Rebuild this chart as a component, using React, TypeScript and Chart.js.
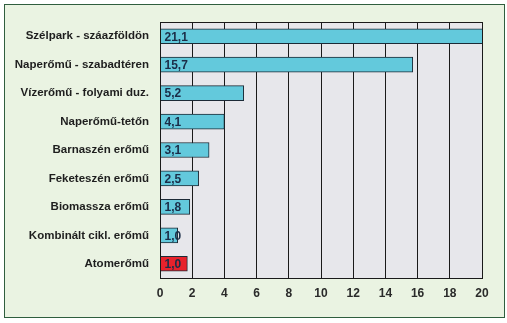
import React, { useEffect, useRef } from "react";
import { Chart, registerables } from "chart.js";

Chart.register(...registerables);

const categories = [
  "Szélpark - száazföldön",
  "Naperőmű - szabadtéren",
  "Vízerőmű - folyami duz.",
  "Naperőmű-tetőn",
  "Barnaszén erőmű",
  "Feketeszén erőmű",
  "Biomassza erőmű",
  "Kombinált cikl. erőmű",
  "Atomerőmű",
];
const barValues = [21.1, 15.7, 5.2, 4.0, 3.05, 2.4, 1.85, 1.1, 1.7];
const valueLabels = ["21,1", "15,7", "5,2", "4,1", "3,1", "2,5", "1,8", "1,0", "1,0"];
const barColors = ["#63c9dc", "#63c9dc", "#63c9dc", "#63c9dc", "#63c9dc", "#63c9dc", "#63c9dc", "#63c9dc", "#e8222c"];
const xTicks = [0, 2, 4, 6, 8, 10, 12, 14, 16, 18, 20];

const FONT = "'Liberation Sans', Arial, sans-serif";

const plotBg = {
  id: "plotBg",
  beforeDraw(chart: any) {
    const { ctx, chartArea: a } = chart;
    ctx.save();
    ctx.fillStyle = "#e7e7eb";
    ctx.fillRect(a.left, a.top, a.right - a.left, a.bottom - a.top);
    ctx.restore();
  },
  afterDraw(chart: any) {
    const { ctx, chartArea: a } = chart;
    ctx.save();
    ctx.strokeStyle = "#1a1a1a";
    ctx.lineWidth = 1;
    ctx.strokeRect(Math.round(a.left) + 0.5, Math.round(a.top) + 0.5, Math.round(a.right - a.left), Math.round(a.bottom - a.top));
    ctx.restore();
  },
};

const valueLabelPlugin = {
  id: "valueLabels",
  afterDatasetsDraw(chart: any) {
    const { ctx } = chart;
    const meta = chart.getDatasetMeta(0);
    ctx.save();
    ctx.font = `bold 12px ${FONT}`;
    ctx.fillStyle = "#1b2d48";
    ctx.textBaseline = "middle";
    ctx.textAlign = "left";
    meta.data.forEach((bar: any, i: number) => {
      ctx.fillText(valueLabels[i], bar.base + 4, bar.y + 1);
    });
    ctx.restore();
  },
};

export default function App() {
  const ref = useRef<HTMLCanvasElement>(null);
  useEffect(() => {
    document.body.style.margin = "0";
    const chart = new Chart(ref.current!, {
      type: "bar",
      data: {
        labels: categories,
        datasets: [
          {
            data: barValues,
            backgroundColor: barColors,
            borderColor: "#1c2a36",
            borderWidth: 1,
            barThickness: 15,
          },
        ],
      },
      options: {
        indexAxis: "y",
        animation: false,
        responsive: false,
        maintainAspectRatio: false,
        layout: { padding: { left: 0, top: 22, right: 25, bottom: 0 } },
        plugins: { legend: { display: false }, tooltip: { enabled: false } },
        scales: {
          x: {
            min: 0,
            max: 20,
            afterBuildTicks: (s: any) => {
              s.ticks = xTicks.map((v) => ({ value: v }));
            },
            afterFit: (s: any) => {
              s.height = 45;
            },
            grid: { color: "#1a1a1a", lineWidth: 1, drawTicks: false },
            border: { display: true, color: "#1a1a1a" },
            ticks: {
              padding: 8,
              color: "#2a2a2a",
              font: { family: FONT, size: 12, weight: "bold" },
              autoSkip: false,
              maxRotation: 0,
            },
          },
          y: {
            afterFit: (s: any) => {
              s.width = 160;
            },
            grid: { display: false, drawTicks: false },
            border: { display: true, color: "#1a1a1a" },
            ticks: {
              padding: 11,
              color: "#1e1e1e",
              font: { family: FONT, size: 11.5, weight: "bold" },
              autoSkip: false,
            },
          },
        },
      },
      plugins: [plotBg, valueLabelPlugin],
    });
    return () => chart.destroy();
  }, []);

  return (
    <div style={{ position: "relative", width: 507, height: 323, background: "#ffffff" }}>
      <div
        style={{
          position: "absolute",
          left: 4,
          top: 4,
          width: 499,
          height: 312,
          border: "1px solid #2f5e3e",
          background: "#eaf3e2",
        }}
      />
      <canvas ref={ref} width={507} height={323} style={{ position: "absolute", left: 0, top: 0 }} />
    </div>
  );
}
